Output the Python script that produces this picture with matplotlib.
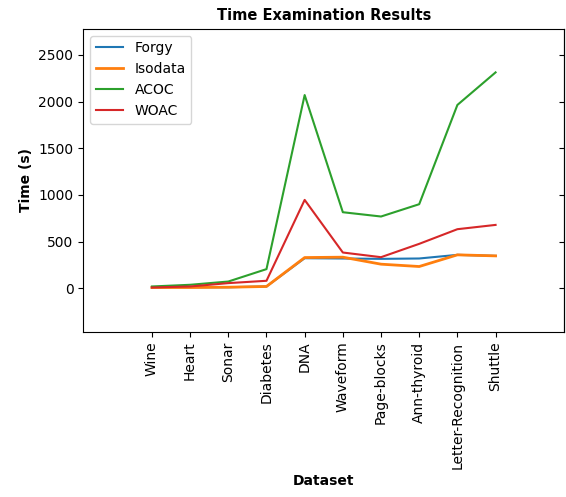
import numpy as np
import matplotlib
matplotlib.use("Agg")
import matplotlib.pyplot as plt

# dataset names and timing results (seconds)
datasets = ['Wine', 'Heart', 'Sonar', 'Diabetes', 'DNA', 'Waveform',
            'Page-blocks', 'Ann-thyroid', 'Letter-Recognition', 'Shuttle']
forgy = [7, 10, 10, 18, 321, 318, 314, 318, 357, 346]
isodata = [7, 7, 10, 18, 328, 332, 257, 232, 357, 346]
acoc = [18, 36, 71, 204, 2070, 814, 768, 900, 1964, 2313]
woac = [7, 18, 54, 79, 946, 382, 332, 475, 632, 678]

fig = plt.figure(figsize=(5.66, 4.97), dpi=100)
ax = fig.add_axes([0.147, 0.332, 0.85, 0.61])

x = np.arange(len(datasets))
ax.plot(x, forgy, label="Forgy", color="#1f77b4", lw=1.5)
ax.plot(x, isodata, label="Isodata", color="#ff7f0e", lw=2)
ax.plot(x, acoc, label="ACOC", color="#2ca02c", lw=1.5)
ax.plot(x, woac, label="WOAC", color="#d62728", lw=1.5)

ax.set_xticks(x)
ax.set_xticklabels(datasets, rotation=90)
ax.set_xlim(-1.8, 10.8)
ax.set_ylim(-470, 2780)
ax.set_yticks([0, 500, 1000, 1500, 2000, 2500])

# small inward ticks on the right spine
sec = ax.secondary_yaxis('right')
sec.set_yticks([0, 500, 1000, 1500, 2000, 2500])
sec.tick_params(direction='in', labelright=False)

ax.set_title("Time Examination Results", fontweight="bold", fontsize=10.5)
ax.set_xlabel("Dataset", fontweight="bold")
ax.set_ylabel("Time (s)", fontweight="bold")
ax.legend(loc="upper left")

fig.savefig("out.png", dpi=100)
